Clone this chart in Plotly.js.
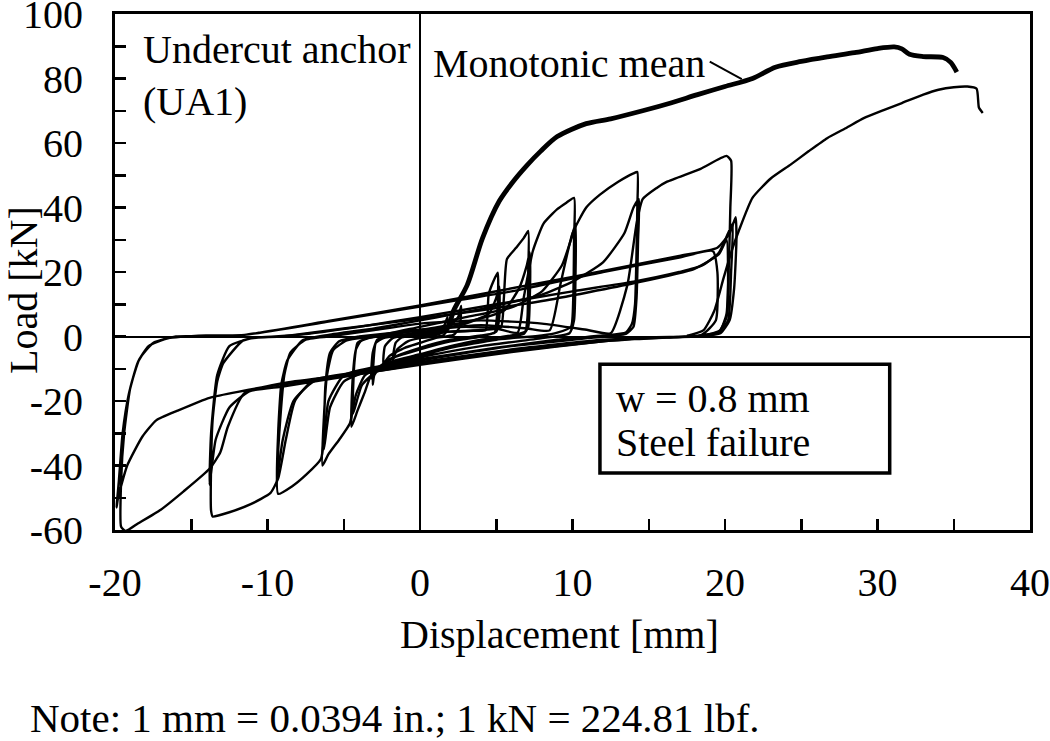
<!DOCTYPE html>
<html>
<head>
<meta charset="utf-8">
<script src="https://cdn.plot.ly/plotly-3.0.1.min.js"></script>
<style>html,body{margin:0;padding:0;background:#fff;}#chart{width:1050px;height:741px;}</style>
</head>
<body>
<div id="chart"></div>
<script>
// Axis ticks
const xTickVals = [-20, -10, 0, 10, 20, 30, 40];
const yTickVals = [-60, -40, -20, 0, 20, 40, 60, 80, 100];

// Cyclic test path, [displacement mm, load kN], in test order
const cycSmall = [[0,0],[0.5,0.5],[1,1.5],[1.6,3.5],[1.8,6],[1.8,2],[1.5,0.3],[1,0],[0,-0.5],[-0.8,-1.5],[-1.5,-4],[-1.8,-7.4],[-1.6,-2],[-1.2,-0.3],[0,0.5],[1,1.5],[2,3.5],[2.5,6],[2.7,9.5],[2.6,3],[2.2,0.5],[1,-0.5],[0,-2],[-1,-3.5],[-2,-6],[-2.4,-8.4],[-2.3,-3],[-1.8,-0.5],[-1,0.5],[0,1.5]];
const cyc5 = [[0,1.5],[2,1.5],[3.5,1.8],[4.3,2],[4.5,13],[4.8,17],[5.1,19.8],[5.1,10],[5.0,4],[4.9,1.2],[4,0.3],[2,-1],[0,-3.5],[-1.5,-6],[-2.5,-9],[-3.0,-12],[-3.1,-15],[-3.05,-8],[-2.9,-2],[-2.4,-0.5],[-1,0.5],[1,2],[3,4],[4.5,7],[5,12],[5.2,15.5],[5.2,6],[5,1.5],[4,0],[2,-1.5],[0,-4],[-2,-7],[-3,-11],[-3.2,-13],[-3.1,-5],[-2.8,-1],[-2,0]];
const cyc7 = [[-2,0],[0,1],[2,1.5],[4,2],[5.3,2.8],[5.5,12],[5.7,24],[6.3,27.5],[6.8,30.5],[7.1,32.7],[7.1,20],[7.05,6],[6.9,1.5],[6,0.3],[4,-1],[2,-3],[0,-5.5],[-2,-8],[-3.2,-12],[-3.6,-17],[-4.1,-23],[-4.5,-28],[-4.4,-12],[-4.2,-4],[-3.9,-1.5],[-3,0],[0,2],[3,4.5],[5.5,8],[6.5,15],[7,22],[7.2,26],[7.2,12],[7.1,3],[6.8,0.8],[5,-0.5],[2,-3],[0,-6],[-2.5,-9.5],[-3.8,-15],[-4.4,-24],[-4.3,-8],[-4.1,-2],[-3.5,-0.5]];
const cyc10 = [[-3.5,-0.5],[-2,0.5],[0,2],[3,3],[5,2.5],[6.4,1.2],[6.8,12],[7.4,26.5],[8.1,35],[9,39.5],[9.6,41.5],[10.1,43],[10.1,30],[10.05,12],[9.9,3],[9,1.2],[8,0.3],[5,-1],[2,-3.5],[0,-6],[-2,-8.5],[-3.6,-12],[-4.2,-18],[-4.6,-27],[-5.3,-32],[-6,-36.5],[-6.4,-40],[-6.3,-25],[-6.1,-12],[-5.7,-4.3],[-4.8,-1.2],[-3,0],[0,3],[3,6],[6,9],[8,14],[9.3,22],[9.9,30],[10.2,35],[10.2,20],[10.1,5],[9.8,1],[8,-0.5],[4,-3],[0,-6.5],[-3,-10],[-5,-14],[-5.9,-22],[-6.3,-35],[-6.2,-15],[-5.9,-5],[-5.3,-1.5],[-4,0]];
const cyc14 = [[-4,0],[0,2],[4,3.5],[7,2.5],[8.5,1.9],[9.2,16],[10,32],[10.9,40],[11.8,44],[13,48],[14,50.6],[14.25,51],[14.25,40],[14.2,26.5],[14.1,10],[13.9,4],[13.5,1.2],[12,0.3],[9,-1],[5,-3.5],[0,-7],[-3,-9.5],[-5,-12],[-6,-20],[-6.5,-38],[-7.5,-43],[-8.4,-46.5],[-9.3,-48.8],[-9.3,-30],[-9.1,-15],[-8.7,-7.4],[-7.7,-1.2],[-6,0.5],[-3,2.5],[0,5],[4,8.5],[8,13],[10,17],[12,23],[13.4,32],[14,40],[14.35,42.6],[14.3,30],[14.2,12],[14,3],[13.5,0.8],[11,-0.5],[6,-3],[0,-7.5],[-4,-11],[-7,-14],[-8.3,-20],[-9,-32],[-9.4,-45],[-9.2,-28],[-8.9,-12],[-8.5,-5],[-7.5,-1],[-6,0]];
const cyc20 = [[-6,0],[-3,2],[0,4],[4,5],[8,4],[11,2],[12.5,1],[13.6,16],[14.2,35],[14.6,42.6],[15.5,46],[16.2,48],[18.4,52],[20.1,56],[20.4,54.5],[20.35,40],[20.3,30],[20.2,15],[20.1,7],[19.7,2],[18.8,0.5],[17.9,0],[15,-0.5],[12,-1],[6,-4],[0,-8],[-4,-11],[-7,-13.5],[-8.2,-20],[-8.8,-32],[-9.3,-44],[-9.8,-48.5],[-11.1,-52],[-12.5,-54.5],[-13.6,-55.8],[-13.7,-54],[-13.7,-40],[-13.6,-26],[-13.3,-14],[-12.9,-8.3],[-11.6,-1.2],[-10.5,-0.3],[-8,0.5],[-4,3],[0,6],[5,10],[10,14],[14,17],[17,20],[18.5,22],[19.6,26],[20.2,32],[20.5,35],[20.4,20],[20.2,5],[19.5,1],[18,0],[15,-0.3],[12,-1.5],[6,-4.5],[0,-8.5],[-5,-12.5],[-9,-15.5],[-11.2,-17],[-12.5,-22],[-13.4,-32],[-13.8,-46],[-13.7,-30],[-13.3,-12],[-12.5,-3],[-11,-0.5],[-9,0]];
const cycNeg20 = [[-9,0],[-5,2.5],[0,5.5],[8,11],[14,16.5],[18,21],[19.6,25.5],[20.1,30],[20.2,20],[20.1,6],[19.6,1.5],[18.3,0.3],[15,-0.6],[12,-1.2],[6,-4.2],[0,-8.2],[-5,-12],[-9,-14.5],[-11.5,-17.5],[-12.6,-28],[-13.1,-36],[-13.8,-41],[-15.5,-48],[-17,-53.7],[-18.5,-58],[-19.3,-60.3],[-19.6,-59],[-19.6,-45],[-19.4,-30],[-19,-16],[-18.4,-7],[-17.5,-2],[-16,0],[-13,0.2],[-11.5,0.5],[-6,4.6],[0,9.3],[6,14],[12,20],[17,24.5],[19.2,26.5],[19.5,20],[19.4,5],[18.5,0.6],[15,-0.5],[12,-1.5],[6,-4.8],[0,-8.8],[-6,-13],[-10,-15.5],[-13.8,-19],[-15.9,-23],[-17.3,-26],[-18.2,-31],[-19.2,-40],[-19.8,-50],[-19.9,-53],[-19.75,-45],[-19.5,-30],[-19.1,-18],[-18.5,-8],[-17.8,-3],[-16.5,-0.5],[-14,0.3],[-11.5,0.5],[-6,4.8],[0,9.6],[10,18.5],[17,25],[19.5,27.5],[20.3,32],[20.7,37],[20.75,30],[20.6,15],[20.3,5],[19.7,1],[18.5,0.2],[17.5,0.2]];
const cycFinal = [[17.5,0.2],[18.6,2],[19.3,8],[19.9,18],[20.4,26],[20.9,32.7],[21.8,43],[23,49],[24.3,53.3],[25.5,57.5],[26.7,61.5],[28,64.8],[29.1,67.7],[30.4,70.2],[31.6,72.4],[33,75],[34,76.5],[35,77.3],[35.9,77.5],[36.5,76.8],[36.65,71],[36.9,69.3]];

// Monotonic mean curve
const monoMean = [[0,0],[1,0.8],[1.8,2.5],[2.2,8],[3.1,16],[4.1,30.5],[5.2,42],[6.1,48],[7,53],[7.9,57.4],[9,62],[10.9,66],[12.5,67.5],[14.6,70],[16.5,72.5],[18.2,75],[20,77.5],[21.8,80],[23.3,83.5],[25,85.3],[26.7,86.7],[28.5,88],[30,89.3],[31.1,89.8],[31.6,89.2],[32.1,87.5],[33,86.8],[34.3,86.5],[34.8,85],[35.2,82]];

const FONT = 'Liberation Serif, "Times New Roman", Times, serif';
const FS = 40;
const cyclic = [cycSmall, cyc5, cyc7, cyc10, cyc14, cyc20, cycNeg20, cycFinal];

const traces = cyclic.map(seg => ({
  type: 'scatter', mode: 'lines',
  x: seg.map(p => p[0]), y: seg.map(p => p[1]),
  line: {color: '#000', width: 2.4, shape: 'spline', smoothing: 0.5},
  hoverinfo: 'skip', showlegend: false
}));
traces.push({
  type: 'scatter', mode: 'lines',
  x: monoMean.map(p => p[0]), y: monoMean.map(p => p[1]),
  line: {color: '#000', width: 4.8, shape: 'spline', smoothing: 0.8},
  hoverinfo: 'skip', showlegend: false
});

const L = 115, R = 1030, T = 14, B = 530;
const px = v => (v - L) / (R - L);
const py = v => (B - v) / (B - T);

const layout = {
  width: 1050, height: 741, autosize: false,
  margin: {l: L, r: 1050 - R, t: T, b: 741 - B, pad: 0},
  paper_bgcolor: '#fff', plot_bgcolor: '#fff',
  font: {family: FONT, color: '#000', size: FS},
  showlegend: false,
  xaxis: {
    range: [-20, 40], tickvals: xTickVals, ticktext: xTickVals.map(String),
    ticks: 'inside', ticklen: 11, tickwidth: 2.5, tickcolor: '#000',
    minor: {dtick: 5, tick0: 0, ticks: 'inside', ticklen: 11, tickwidth: 2.5, tickcolor: '#000', showgrid: false},
    showline: true, linewidth: 3, linecolor: '#000', mirror: true,
    showgrid: false, zeroline: true, zerolinecolor: '#000', zerolinewidth: 2,
    tickfont: {family: FONT, size: FS, color: '#000'}, ticklabelstandoff: 15,
    ticklabeloverflow: 'allow', fixedrange: true
  },
  yaxis: {
    range: [-60, 100], tickvals: yTickVals, ticktext: yTickVals.map(String),
    ticks: 'inside', ticklen: 11, tickwidth: 2.5, tickcolor: '#000',
    minor: {dtick: 10, tick0: 0, ticks: 'inside', ticklen: 11, tickwidth: 2.5, tickcolor: '#000', showgrid: false},
    showline: true, linewidth: 3, linecolor: '#000', mirror: true,
    showgrid: false, zeroline: true, zerolinecolor: '#000', zerolinewidth: 2,
    tickfont: {family: FONT, size: FS, color: '#000'}, ticklabelstandoff: 21,
    ticklabeloverflow: 'allow', fixedrange: true
  },
  shapes: [
    {type: 'rect', xref: 'x', yref: 'y', x0: 11.8, x1: 30.8, y0: -42.3, y1: -8.6,
     line: {color: '#000', width: 3.5}, fillcolor: 'rgba(0,0,0,0)'},
    {type: 'line', xref: 'x', yref: 'y', x0: 19.0, y0: 85.2, x1: 21.1, y1: 79.8,
     line: {color: '#000', width: 2}}
  ],
  annotations: [
    {xref: 'x', yref: 'y', x: -18.3, y: 88.9, text: 'Undercut anchor', showarrow: false, xanchor: 'left', yanchor: 'middle', font: {size: FS}},
    {xref: 'x', yref: 'y', x: -18.3, y: 72.8, text: '(UA1)', showarrow: false, xanchor: 'left', yanchor: 'middle', font: {size: FS}},
    {xref: 'x', yref: 'y', x: 0.7, y: 84.6, text: 'Monotonic mean', showarrow: false, xanchor: 'left', yanchor: 'middle', font: {size: FS}},
    {xref: 'x', yref: 'y', x: 12.7, y: -19.2, text: 'w = 0.8 mm', showarrow: false, xanchor: 'left', yanchor: 'middle', font: {size: FS}},
    {xref: 'x', yref: 'y', x: 12.7, y: -33.0, text: 'Steel failure', showarrow: false, xanchor: 'left', yanchor: 'middle', font: {size: FS}},
    {xref: 'paper', yref: 'paper', x: px(23), y: py(290), text: 'Load [kN]', textangle: -90, showarrow: false, xanchor: 'center', yanchor: 'middle', font: {size: FS}},
    {xref: 'paper', yref: 'paper', x: px(559), y: py(634), text: 'Displacement [mm]', showarrow: false, xanchor: 'center', yanchor: 'middle', font: {size: FS}},
    {xref: 'paper', yref: 'paper', x: px(28), y: py(718), text: 'Note: 1 mm = 0.0394 in.; 1 kN = 224.81 lbf.', showarrow: false, xanchor: 'left', yanchor: 'middle', font: {size: 41}}
  ]
};

Plotly.newPlot('chart', traces, layout, {displayModeBar: false, staticPlot: true});
</script>
</body>
</html>
